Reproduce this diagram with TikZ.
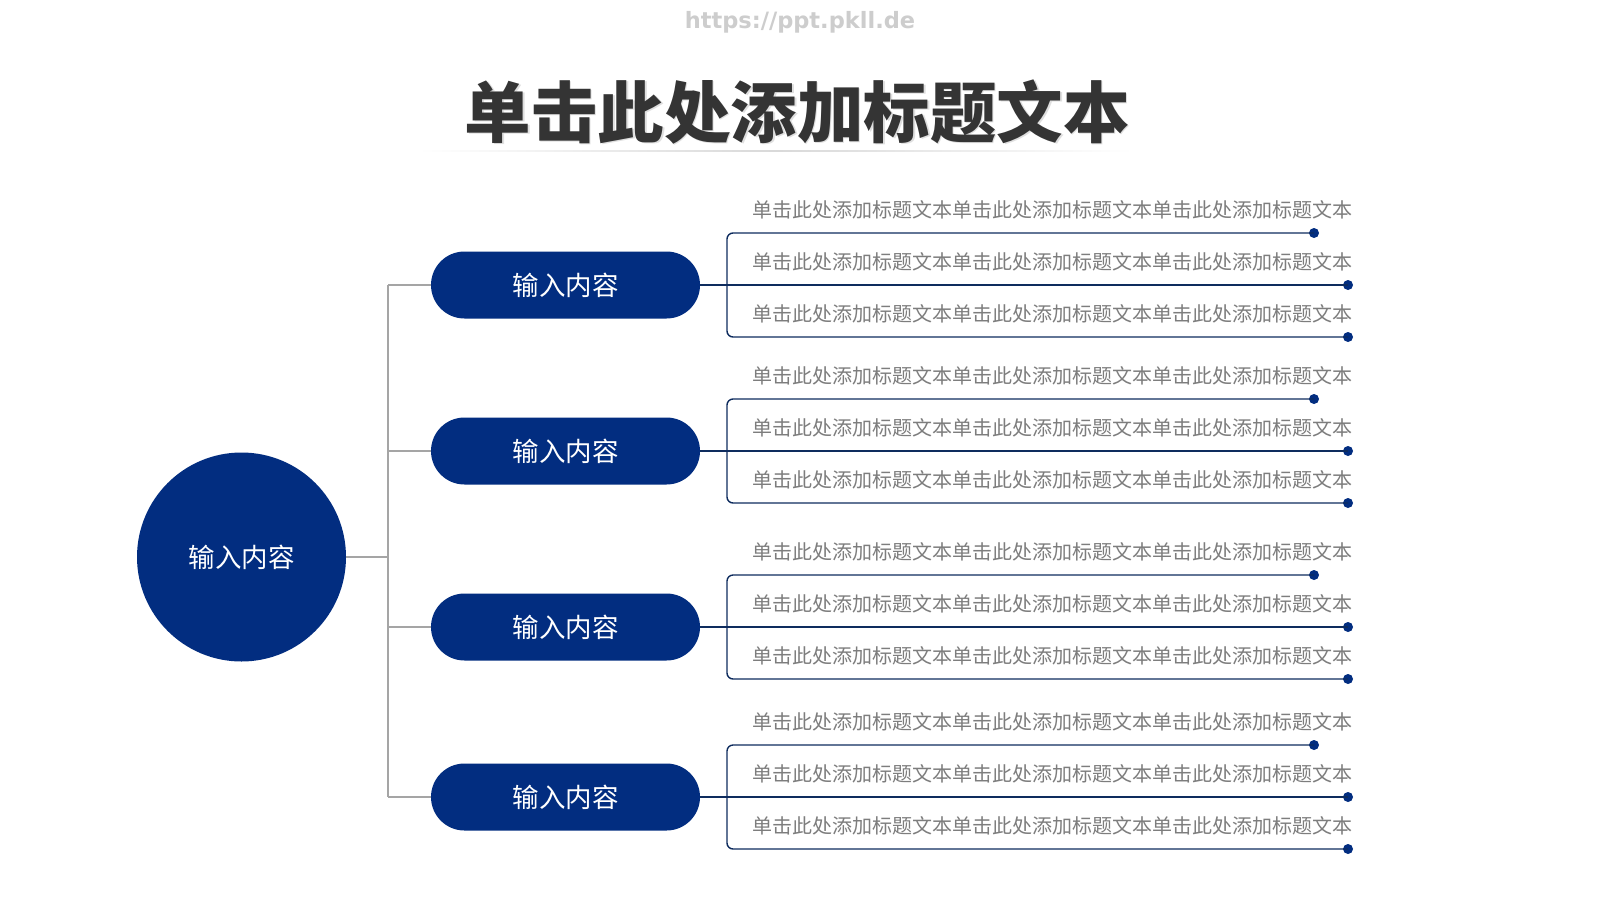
\documentclass[tikz,border=0pt]{standalone}
\usepackage{fontspec}
\newfontfamily\cjk{Noto Sans CJK SC}
\newfontfamily\urlfont{DejaVu Sans}
\definecolor{navy}{RGB}{2,45,128}
\definecolor{linenavy}{RGB}{14,44,94}
\definecolor{connc}{RGB}{165,165,165}
\definecolor{bodyc}{RGB}{125,125,125}
\definecolor{titlec}{RGB}{52,52,52}
\definecolor{urlc}{RGB}{205,205,205}
\newcommand\btxt{单击此处添加标题文本单击此处添加标题文本单击此处添加标题文本}
\tikzset{
  pill/.style={fill=navy, rounded corners=33.5pt, minimum width=269pt, minimum height=67pt, inner sep=0pt, text=white, font=\cjk\fontsize{26.5}{27}\selectfont},
  hub/.style={circle, fill=navy, minimum size=209pt, inner sep=0pt, text=white, font=\cjk\fontsize{26.5}{27}\selectfont},
  connl/.style={draw=connc, line width=1.2pt},
  branch/.style={draw=linenavy, line width=1.4pt},
  dotn/.style={circle, fill=navy, minimum size=10pt, inner sep=0pt},
  bodytext/.style={text=bodyc, font=\cjk\fontsize{20}{20}\selectfont, inner sep=0pt}
}
\begin{document}
\begin{tikzpicture}[x=1pt,y=-1pt]
\useasboundingbox[fill=white] (0,0) rectangle (1600,900);
% url
\node[font=\urlfont\bfseries\fontsize{22.5}{22.5}\selectfont, text=urlc] (url) at (800,22) {https://ppt.pkll.de};
% title
\shade[left color=white, right color=white, middle color=gray!30] (418,150.3) rectangle (1133,151.7);
\node[font=\cjk\bfseries\fontsize{66.5}{66.5}\selectfont, text=gray!25] (titleshadow) at (798.5,113.5) {单击此处添加标题文本};
\node[font=\cjk\bfseries\fontsize{66.5}{66.5}\selectfont, text=titlec] (title) at (797,112) {单击此处添加标题文本};
% hub
\node[hub] (hub) at (241.5,557) {输入内容};
\coordinate (vh) at (388,557);
\foreach \i/\c in {1/285,2/451,3/627,4/797}{
  \node[pill] (p\i) at (565.5,\c) {输入内容};
  \coordinate (v\i) at (388,\c);
  \draw[connl] (v\i) -- (p\i);
  \node[dotn] (da\i) at (1314,\c-52) {};
  \node[dotn] (db\i) at (1348,\c) {};
  \node[dotn] (dc\i) at (1348,\c+52) {};
  \coordinate (bt\i) at (727,\c-52);
  \coordinate (bb\i) at (727,\c+52);
  \draw[branch, rounded corners=6pt] (da\i.center) -- (bt\i) -- (bb\i) -- (dc\i.center);
  \draw[branch] (p\i) -- (db\i.center);
  \node[bodytext] (ta\i) at (1052,\c-52-23) {\btxt};
  \node[bodytext] (tb\i) at (1052,\c-23) {\btxt};
  \node[bodytext] (tc\i) at (1052,\c+52-23) {\btxt};
}
\draw[connl] (v1) -- (v4);
\draw[connl] (hub) -- (vh);
\end{tikzpicture}
\end{document}
